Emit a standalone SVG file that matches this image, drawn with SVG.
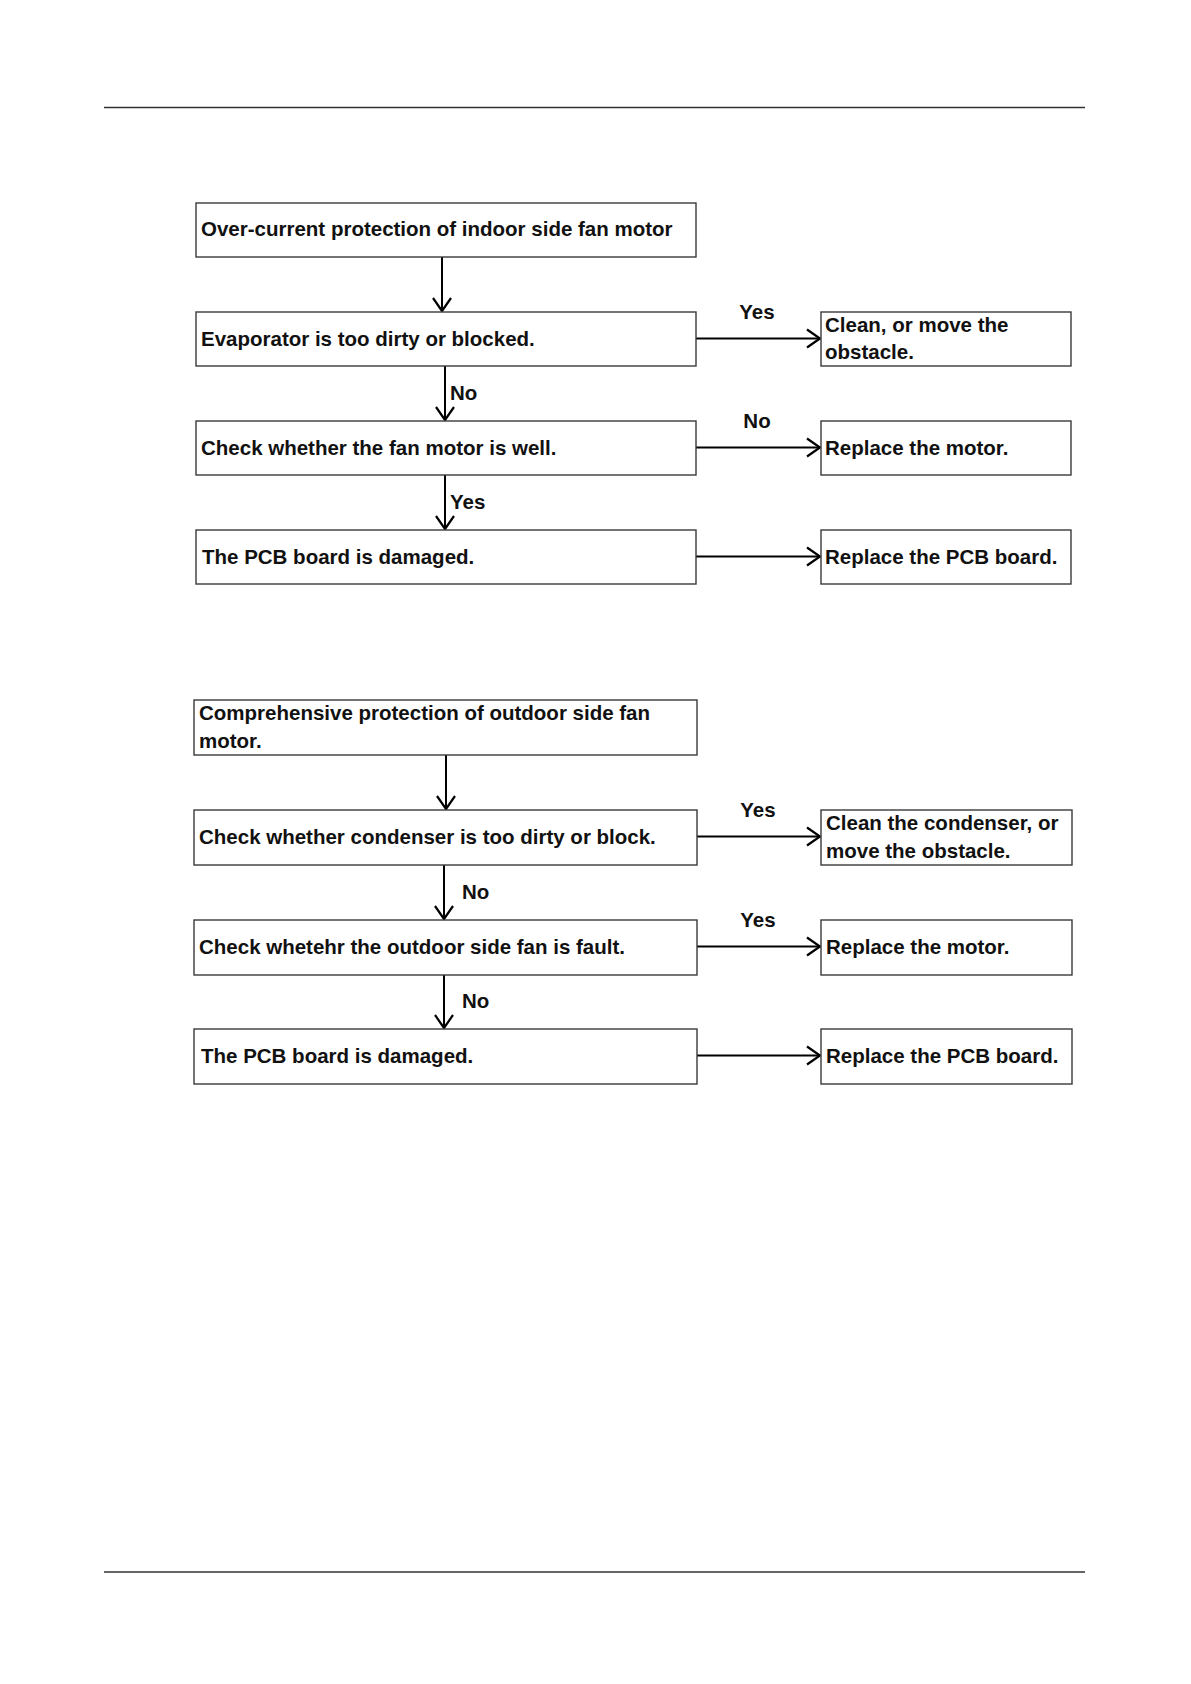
<svg xmlns="http://www.w3.org/2000/svg" width="1191" height="1684" viewBox="0 0 1191 1684">
<defs>
<marker id="ah" markerUnits="userSpaceOnUse" markerWidth="22" markerHeight="22" viewBox="-16 -11 18 22" refX="0" refY="0" orient="auto">
<path d="M-13,-9 L0,0 L-13,9" fill="none" stroke="#000" stroke-width="2.2"/>
</marker>
</defs>
<style>
.box{fill:#fff;stroke:#3a3a3a;stroke-width:1.4}
.t{font-family:"Liberation Sans",Arial,sans-serif;font-weight:bold;font-size:20.5px;fill:#111}
.c{stroke:#000;stroke-width:2;fill:none;marker-end:url(#ah)}
.rule{stroke:#333;stroke-width:1.5}
</style>
<rect width="1191" height="1684" fill="#fff"/>
<line class="rule" x1="104" y1="107.5" x2="1085" y2="107.5"/>
<line class="rule" x1="104" y1="1572" x2="1085" y2="1572" stroke-width="2"/>

<g id="connectors">
<line class="c" x1="442" y1="257" x2="442" y2="311"/>
<line class="c" x1="445" y1="366" x2="445" y2="420"/>
<line class="c" x1="445" y1="475" x2="445" y2="529"/>
<line class="c" x1="696" y1="338.5" x2="820" y2="338.5"/>
<line class="c" x1="696" y1="447.5" x2="820" y2="447.5"/>
<line class="c" x1="696" y1="556.5" x2="820" y2="556.5"/>
<line class="c" x1="446" y1="755" x2="446" y2="809"/>
<line class="c" x1="444" y1="865" x2="444" y2="919"/>
<line class="c" x1="444" y1="975" x2="444" y2="1028"/>
<line class="c" x1="697" y1="836.5" x2="820" y2="836.5"/>
<line class="c" x1="697" y1="946.5" x2="820" y2="946.5"/>
<line class="c" x1="697" y1="1055.5" x2="820" y2="1055.5"/>
<text class="t" x="757" y="319" text-anchor="middle">Yes</text>
<text class="t" x="757" y="428" text-anchor="middle">No</text>
<text class="t" x="450" y="400">No</text>
<text class="t" x="450" y="509">Yes</text>
<text class="t" x="758" y="817" text-anchor="middle">Yes</text>
<text class="t" x="758" y="927" text-anchor="middle">Yes</text>
<text class="t" x="462" y="899">No</text>
<text class="t" x="462" y="1008">No</text>
</g>

<g id="n1"><rect class="box" x="196" y="203" width="500" height="54"/><text class="t" x="201" y="236">Over-current protection of indoor side fan motor</text></g>
<g id="n2"><rect class="box" x="196" y="312" width="500" height="54"/><text class="t" x="201" y="346">Evaporator is too dirty or blocked.</text></g>
<g id="n3"><rect class="box" x="196" y="421" width="500" height="54"/><text class="t" x="201" y="455">Check whether the fan motor is well.</text></g>
<g id="n4"><rect class="box" x="196" y="530" width="500" height="54"/><text class="t" x="202" y="564">The PCB board is damaged.</text></g>
<g id="n5"><rect class="box" x="821" y="312" width="250" height="54"/><text class="t" x="825" y="332">Clean, or move the</text><text class="t" x="825" y="359">obstacle.</text></g>
<g id="n6"><rect class="box" x="821" y="421" width="250" height="54"/><text class="t" x="825" y="455">Replace the motor.</text></g>
<g id="n7"><rect class="box" x="821" y="530" width="250" height="54"/><text class="t" x="825" y="564">Replace the PCB board.</text></g>

<g id="m1"><rect class="box" x="194" y="700" width="503" height="55"/><text class="t" x="199" y="720">Comprehensive protection of outdoor side fan</text><text class="t" x="199" y="748">motor.</text></g>
<g id="m2"><rect class="box" x="194" y="810" width="503" height="55"/><text class="t" x="199" y="844">Check whether condenser is too dirty or block.</text></g>
<g id="m3"><rect class="box" x="194" y="920" width="503" height="55"/><text class="t" x="199" y="954">Check whetehr the outdoor side fan is fault.</text></g>
<g id="m4"><rect class="box" x="194" y="1029" width="503" height="55"/><text class="t" x="201" y="1063">The PCB board is damaged.</text></g>
<g id="m5"><rect class="box" x="821" y="810" width="251" height="55"/><text class="t" x="826" y="830">Clean the condenser, or</text><text class="t" x="826" y="858">move the obstacle.</text></g>
<g id="m6"><rect class="box" x="821" y="920" width="251" height="55"/><text class="t" x="826" y="954">Replace the motor.</text></g>
<g id="m7"><rect class="box" x="821" y="1029" width="251" height="55"/><text class="t" x="826" y="1063">Replace the PCB board.</text></g>
</svg>
